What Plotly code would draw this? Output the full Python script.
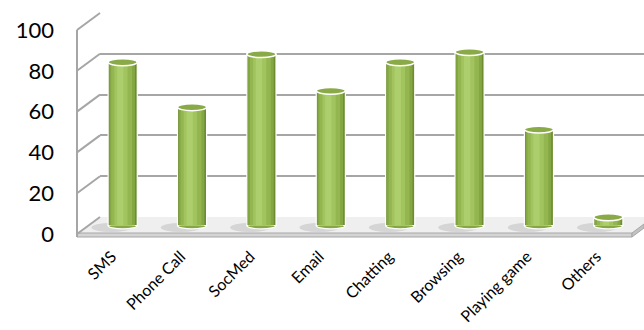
import plotly.graph_objects as go

categories = ["SMS", "Phone Call", "SocMed", "Email", "Chatting", "Browsing", "Playing game", "Others"]
values = [80, 58, 84, 66, 80, 85, 47, 4]
y_ticks = [0, 20, 40, 60, 80, 100]

W, H = 644, 330
def px(x): return x / W
def py(y): return 1 - y / H

K = 2.04  # px per unit
BACK_X0, BACK_Y0 = 100, 217
MID_X0, MID_X1, MID_Y0 = 88, 643, 225.5
FR_X0, FR_X1, FR_Y0 = 77, 631, 234
YMIN = -4

xpos = list(range(len(categories)))
fig = go.Figure()

# back wall (gridlines)
fig.add_trace(go.Scatter(x=xpos, y=values, xaxis="x", yaxis="y", mode="markers",
                         marker=dict(opacity=0), hoverinfo="skip", showlegend=False))
# front plane (tick labels)
fig.add_trace(go.Scatter(x=xpos, y=values, xaxis="x2", yaxis="y2", mode="markers",
                         marker=dict(opacity=0), hoverinfo="skip", showlegend=False))

# cylinders built from overlaid bars for shading
layers = [(0.42, "#6E8D32", 0.0, 1.2), (0.37, "#84A643", -0.008, 0),
          (0.30, "#94B651", -0.015, 0), (0.19, "#A2C45F", -0.025, 0),
          (0.09, "#ADCE6C", -0.035, 0)]
for w, c, off, lw in layers:
    fig.add_trace(go.Bar(x=xpos, y=values, xaxis="x3", yaxis="y3", width=w,
                         offset=-w / 2 + off, marker=dict(color=c, line=dict(color="white", width=lw)),
                         hoverinfo="skip", showlegend=False))

shapes = []
# floor
pts = [(100, 217), (644, 217), (644, 224), (632, 233), (77, 233)]
path = "M " + " L ".join(f"{px(a):.5f},{py(b):.5f}" for a, b in pts) + " Z"
shapes.append(dict(type="path", xref="paper", yref="paper", path=path,
                   fillcolor="#efefef", line=dict(width=0), layer="below"))
shapes.append(dict(type="rect", xref="paper", yref="paper", x0=px(77), x1=px(632), y0=py(237), y1=py(233),
                   fillcolor="#d4d4d4", line=dict(color="#a6a6a6", width=1), layer="below"))
pts = [(632, 233), (644, 224), (644, 228), (632, 237)]
path = "M " + " L ".join(f"{px(a):.5f},{py(b):.5f}" for a, b in pts) + " Z"
shapes.append(dict(type="path", xref="paper", yref="paper", path=path,
                   fillcolor="#c2c2c2", line=dict(color="#a6a6a6", width=1), layer="below"))
# left wall
shapes.append(dict(type="line", xref="paper", yref="paper", x0=px(77), x1=px(77),
                   y0=py(30), y1=py(237), line=dict(color="#a6a6a6", width=2), layer="below"))
for v in y_ticks:
    shapes.append(dict(type="line", xref="paper", yref="paper",
                       x0=px(77), y0=py(FR_Y0 - v * K), x1=px(BACK_X0), y1=py(BACK_Y0 - v * K),
                       line=dict(color="#a6a6a6", width=2), layer="below"))

# shadows, bottoms and tops of cylinders
for i, v in zip(xpos, values):
    shapes.append(dict(type="circle", xref="x3", yref="y3", x0=i - 0.45, x1=i + 0.12,
                       y0=-3.2, y1=1.2, fillcolor="rgba(110,110,110,0.2)", line=dict(width=0), layer="below"))
    shapes.append(dict(type="circle", xref="x3", yref="y3", x0=i - 0.21, x1=i + 0.21,
                       y0=-1.7, y1=1.7, fillcolor="#86A744", line=dict(color="white", width=1.2), layer="below"))
    shapes.append(dict(type="circle", xref="x3", yref="y3", x0=i - 0.21, x1=i + 0.21,
                       y0=v - 1.7, y1=v + 1.7, fillcolor="#89AA47", line=dict(color="white", width=1.5), layer="above"))

font = "Lato, Carlito, Calibri, sans-serif"
fig.update_layout(
    width=W, height=H, margin=dict(l=0, r=0, t=0, b=0, pad=0, autoexpand=False),
    paper_bgcolor="white", plot_bgcolor="rgba(0,0,0,0)",
    barmode="overlay", showlegend=False, font=dict(family=font, color="black"),
    shapes=shapes,
    xaxis=dict(domain=[px(BACK_X0), 1], range=[-0.5, 7.5], anchor="y", visible=False, automargin=False),
    yaxis=dict(domain=[py(BACK_Y0), py(BACK_Y0 - 100 * K)], range=[-0.01, 100.01], anchor="x",
               tickvals=y_ticks, showgrid=True, gridcolor="#a6a6a6", gridwidth=2, automargin=False,
               showticklabels=False, zeroline=False, showline=False, ticks=""),
    xaxis2=dict(domain=[px(FR_X0), px(FR_X1)], range=[-0.5, 7.5], anchor="y2", automargin=False,
                tickmode="array", tickvals=xpos, ticktext=categories, tickangle=-45,
                showgrid=False, zeroline=False, showline=False,
                ticks="outside", ticklen=6, tickcolor="rgba(0,0,0,0)",
                tickfont=dict(size=16, family=font)),
    yaxis2=dict(domain=[py(FR_Y0), py(FR_Y0 - 100 * K)], range=[0, 100], anchor="free",
                position=px(54), tickvals=y_ticks, showgrid=False, zeroline=False, showline=False,
                ticks="", tickfont=dict(size=22, family=font), automargin=False),
    xaxis3=dict(domain=[px(MID_X0), px(MID_X1)], range=[-0.5, 7.5], anchor="y3", visible=False,
                automargin=False),
    yaxis3=dict(domain=[py(MID_Y0 - YMIN * K), py(MID_Y0 - 100 * K)], range=[YMIN, 100],
                anchor="x3", visible=False, automargin=False),
)
fig.write_html("out.html", config={"displayModeBar": False},
               post_script="document.body.style.margin='0px';document.body.style.overflow='hidden';")
